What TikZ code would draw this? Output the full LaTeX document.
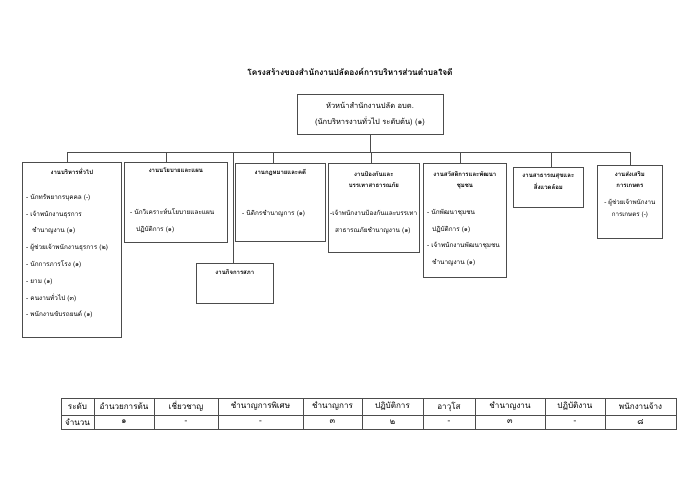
\documentclass[tikz,border=0pt]{standalone}
\usepackage{fontspec}
\setmainfont{Loma}[Script=Thai]
\begin{document}
\begin{tikzpicture}[x=1pt,y=-1pt,
  unitbox/.style={draw=black!70, line width=0.7pt, anchor=north west, inner sep=0pt},
  unittitle/.style={anchor=north, align=center, inner sep=1pt, font=\fontsize{6}{11.5}\selectfont\bfseries},
  unitlist/.style={anchor=north west, align=left, inner sep=1pt, font=\fontsize{6.4}{16.8}\selectfont},
  cell/.style={draw=black!70, line width=0.4pt, inner sep=0pt, font=\fontsize{8.1}{10}\selectfont}]
\useasboundingbox (0,0) rectangle (700,495);
\fill[white] (0,0) rectangle (700,495);
% title and head
\node[font=\fontsize{8.3}{10}\selectfont\bfseries] (title) at (350,72) {โครงสร้างของสำนักงานปลัดองค์การบริหารส่วนตำบลใจดี};
\node[draw=black!70, line width=0.7pt, minimum width=146pt, minimum height=40pt, align=center,
      font=\fontsize{7.5}{16}\selectfont] (head) at (370,114) {หัวหน้าสำนักงานปลัด อบต.\\(นักบริหารงานทั่วไป ระดับต้น) (๑)};
\coordinate (bus) at (370,152);

% units
\node[unitbox, minimum width=99pt, minimum height=175pt] (b1) at (22,162) {};
\node[unitbox, minimum width=103pt, minimum height=80pt] (b2) at (124,162) {};
\node[unitbox, minimum width=90pt, minimum height=78pt] (b3) at (235,163) {};
\node[unitbox, minimum width=91pt, minimum height=89pt] (b4) at (328,163) {};
\node[unitbox, minimum width=83pt, minimum height=114pt] (b5) at (423,163) {};
\node[unitbox, minimum width=70pt, minimum height=40pt] (b6) at (513,167) {};
\node[unitbox, minimum width=65pt, minimum height=73pt] (b7) at (597,165) {};
\node[unitbox, minimum width=77pt, minimum height=40pt] (sapha) at (196,263) {};

\node[unittitle] (b1t) at ([yshift=-5pt]b1.north) {งานบริหารทั่วไป};
\node[unittitle] (b2t) at ([yshift=-5pt]b2.north) {งานนโยบายและแผน};
\node[unittitle] (b3t) at ([yshift=-5pt]b3.north) {งานกฎหมายและคดี};
\node[unittitle] (b4t) at ([yshift=-7pt]b4.north) {งานป้องกันและ\\บรรเทาสาธารณภัย};
\node[unittitle] (b5t) at ([yshift=-7pt]b5.north) {งานสวัสดิการและพัฒนา\\ชุมชน};
\node[unittitle] (b6t) at ([yshift=-6pt]b6.north) {งานสาธารณสุขและ\\สิ่งแวดล้อม};
\node[unittitle] (b7t) at ([yshift=-5pt]b7.north) {งานส่งเสริม\\การเกษตร};
\node[unittitle] (sapt) at ([yshift=-5pt]sapha.north) {งานกิจการสภา};

\node[unitlist] (b1l) at (25,193) {- นักทรัพยากรบุคคล (-)\\- เจ้าพนักงานธุรการ\\\hspace*{6pt}ชำนาญงาน (๑)\\- ผู้ช่วยเจ้าพนักงานธุรการ (๒)\\- นักการภารโรง (๑)\\- ยาม (๑)\\- คนงานทั่วไป (๓)\\- พนักงานขับรถยนต์ (๑)};
\node[unitlist] (b2l) at (129,208) {- นักวิเคราะห์นโยบายและแผน\\\hspace*{6pt}ปฏิบัติการ (๑)};
\node[unitlist] (b3l) at (241,209) {- นิติกรชำนาญการ (๑)};
\node[unitlist] (b4l) at (329,209) {-เจ้าพนักงานป้องกันและบรรเทา\\\hspace*{5pt}สาธารณภัยชำนาญงาน (๑)};
\node[unitlist] (b5l) at (426,208) {- นักพัฒนาชุมชน\\\hspace*{5pt}ปฏิบัติการ (๑)\\- เจ้าพนักงานพัฒนาชุมชน\\\hspace*{5pt}ชำนาญงาน (๑)};
\node[unittitle, font=\fontsize{6.2}{12}\selectfont] (b7l) at ([yshift=-33pt]b7.north) {- ผู้ช่วยเจ้าพนักงาน\\การเกษตร (-)};

% connectors
\draw[black!70, line width=0.7pt] (head.south) -- (bus);
\draw[black!70, line width=0.7pt] ([xshift=-4.5pt]b1.north) |- (bus);
\draw[black!70, line width=0.7pt] ([xshift=-9.5pt]b2.north) |- (bus);
\draw[black!70, line width=0.7pt] ([xshift=-1.5pt]sapha.north) |- (bus);
\draw[black!70, line width=0.7pt] ([xshift=-7pt]b3.north) |- (bus);
\draw[black!70, line width=0.7pt] ([xshift=-2.5pt]b4.north) |- (bus);
\draw[black!70, line width=0.7pt] ([xshift=-4.5pt]b5.north) |- (bus);
\draw[black!70, line width=0.7pt] ([xshift=3pt]b6.north) |- (bus);
\draw[black!70, line width=0.7pt] (b7.north) |- (bus);

% table
\foreach \a/\b/\lvl/\num [count=\i] in {61/94/ระดับ/จำนวน, 94/154/อำนวยการต้น/๑, 154/218/เชี่ยวชาญ/-,
    218/303/ชำนาญการพิเศษ/-, 303/362/ชำนาญการ/๓, 362/423/ปฏิบัติการ/๒, 423/475/อาวุโส/-,
    475/545/ชำนาญงาน/๓, 545/605/ปฏิบัติงาน/-, 605/676/พนักงานจ้าง/๘} {
  \node[cell, minimum width={(\b-\a)*1pt}, minimum height=17pt] (lv\i) at ({(\a+\b)/2},406.5) {\lvl};
  \node[cell, minimum width={(\b-\a)*1pt}, minimum height=14pt] (nm\i) at ({(\a+\b)/2},422) {\num};
}
\end{tikzpicture}
\end{document}
